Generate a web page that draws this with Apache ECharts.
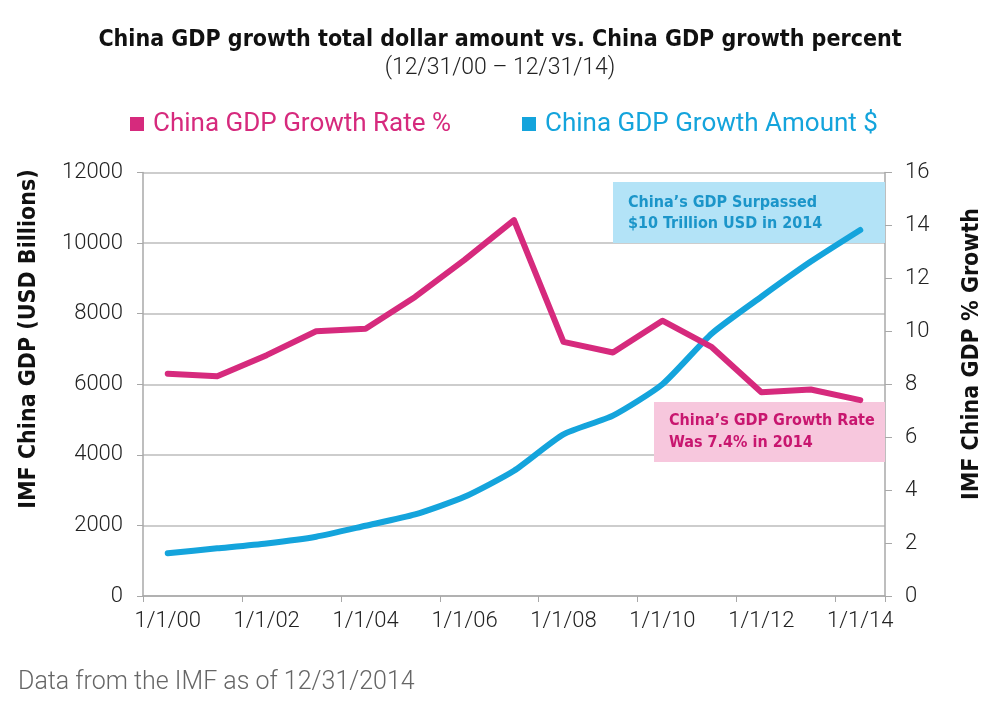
<!DOCTYPE html>
<html>
<head>
<meta charset="utf-8">
<script src="https://cdn.jsdelivr.net/npm/echarts@6/dist/echarts.min.js"></script>
<style>html,body{margin:0;padding:0;background:#fff}#c{width:1000px;height:706px}</style>
</head>
<body>
<div id="c"></div>
<script>
const categories = ['1/1/00','1/1/01','1/1/02','1/1/03','1/1/04','1/1/05','1/1/06','1/1/07','1/1/08','1/1/09','1/1/10','1/1/11','1/1/12','1/1/13','1/1/14'];
const growthRate = [8.4, 8.3, 9.1, 10.0, 10.1, 11.3, 12.7, 14.2, 9.6, 9.2, 10.4, 9.4, 7.7, 7.8, 7.4];
const gdpAmount = [1210, 1350, 1490, 1680, 1990, 2310, 2810, 3550, 4580, 5110, 6000, 7440, 8480, 9475, 10370];
const leftTicks = [0, 2000, 4000, 6000, 8000, 10000, 12000];
const rightTicks = [0, 2, 4, 6, 8, 10, 12, 14, 16];

const PINK = '#d62a7d';
const BLUE = '#14a4dc';
const BOLD = '"DejaVu Sans Condensed", sans-serif';
const LIGHT = 'Roboto, sans-serif';

const chart = echarts.init(document.getElementById('c'));
chart.setOption({
  animation: false,
  backgroundColor: '#fff',
  title: [{
    text: 'China GDP growth total dollar amount vs. China GDP growth percent',
    subtext: '(12/31/00 – 12/31/14)',
    left: 'center', top: 24, itemGap: 5,
    textStyle: {fontFamily: BOLD, fontWeight: 'bold', fontSize: 23, color: '#111'},
    subtextStyle: {fontFamily: LIGHT, fontWeight: 300, fontSize: 23, color: '#222'}
  }],
  legend: {
    left: 125, top: 106, itemWidth: 14, itemHeight: 14, itemGap: 71, icon: 'rect',
    textStyle: {fontFamily: LIGHT, fontSize: 26, padding: [0, 0, 0, 4]},
    data: [
      {name: 'China GDP Growth Rate %', textStyle: {color: PINK}, itemStyle: {color: PINK}},
      {name: 'China GDP Growth Amount $', textStyle: {color: BLUE}, itemStyle: {color: BLUE}}
    ]
  },
  grid: {left: 143, right: 115, top: 172.5, bottom: 110},
  xAxis: {
    type: 'category', data: categories, boundaryGap: true,
    axisLine: {lineStyle: {color: '#a8a8a8', width: 1.5}},
    axisTick: {show: true, interval: 1, length: 6, lineStyle: {color: '#a8a8a8'}},
    axisLabel: {interval: 1, margin: 14, fontFamily: LIGHT, fontWeight: 300, fontSize: 22, color: '#222'}
  },
  yAxis: [{
    type: 'value', min: leftTicks[0], max: leftTicks[leftTicks.length - 1], interval: 2000, position: 'left',
    axisLine: {show: true, lineStyle: {color: '#a8a8a8', width: 1.5}},
    axisTick: {show: true, length: 6, lineStyle: {color: '#a8a8a8'}},
    splitLine: {show: true, lineStyle: {color: '#bdbdbd', width: 1.5}},
    axisLabel: {margin: 20, formatter: v => String(v), fontFamily: LIGHT, fontWeight: 300, fontSize: 22, color: '#222'}
  }, {
    type: 'value', min: rightTicks[0], max: rightTicks[rightTicks.length - 1], interval: 2, position: 'right',
    axisLine: {show: true, lineStyle: {color: '#a8a8a8', width: 1.5}},
    axisTick: {show: true, length: 7, lineStyle: {color: '#a8a8a8'}},
    splitLine: {show: false},
    axisLabel: {margin: 20, fontFamily: LIGHT, fontWeight: 300, fontSize: 22, color: '#222'}
  }],
  graphic: [
    {type: 'rect', z: 1, shape: {x: 613, y: 182, width: 272, height: 61}, style: {fill: '#b3e3f7'}},
    {type: 'text', z: 2, x: 628, y: 192, style: {text: "China’s GDP Surpassed\n$10 Trillion USD in 2014", fill: '#1b95c9', font: 'bold 16px ' + BOLD, lineHeight: 21, textVerticalAlign: 'top'}},
    {type: 'rect', z: 1, shape: {x: 654, y: 402, width: 231, height: 60}, style: {fill: '#f7c7dd'}},
    {type: 'text', z: 2, x: 669, y: 410, style: {text: "China’s GDP Growth Rate\nWas 7.4% in 2014", fill: '#c8166f', font: 'bold 16px ' + BOLD, lineHeight: 22, textVerticalAlign: 'top'}},
    {type: 'text', z: 2, x: 29, y: 339, rotation: Math.PI / 2, style: {text: 'IMF China GDP (USD Billions)', fill: '#111', font: 'bold 23px ' + BOLD, textAlign: 'center', textVerticalAlign: 'middle'}},
    {type: 'text', z: 2, x: 972, y: 354, rotation: Math.PI / 2, style: {text: 'IMF China GDP % Growth', fill: '#111', font: 'bold 23px ' + BOLD, textAlign: 'center', textVerticalAlign: 'middle'}},
    {type: 'text', z: 2, x: 18, y: 683, style: {text: 'Data from the IMF as of 12/31/2014', fill: '#666', font: '300 25px ' + LIGHT, textVerticalAlign: 'middle'}}
  ],
  series: [{
    name: 'China GDP Growth Amount $', type: 'line', yAxisIndex: 0, data: gdpAmount,
    smooth: 0.2, symbol: 'none', z: 3, color: BLUE,
    lineStyle: {color: BLUE, width: 6, cap: 'round', join: 'round'}
  }, {
    name: 'China GDP Growth Rate %', type: 'line', yAxisIndex: 1, data: growthRate,
    smooth: false, symbol: 'none', z: 4, color: PINK,
    lineStyle: {color: PINK, width: 6, cap: 'round', join: 'round'}
  }]
});
</script>
</body>
</html>
